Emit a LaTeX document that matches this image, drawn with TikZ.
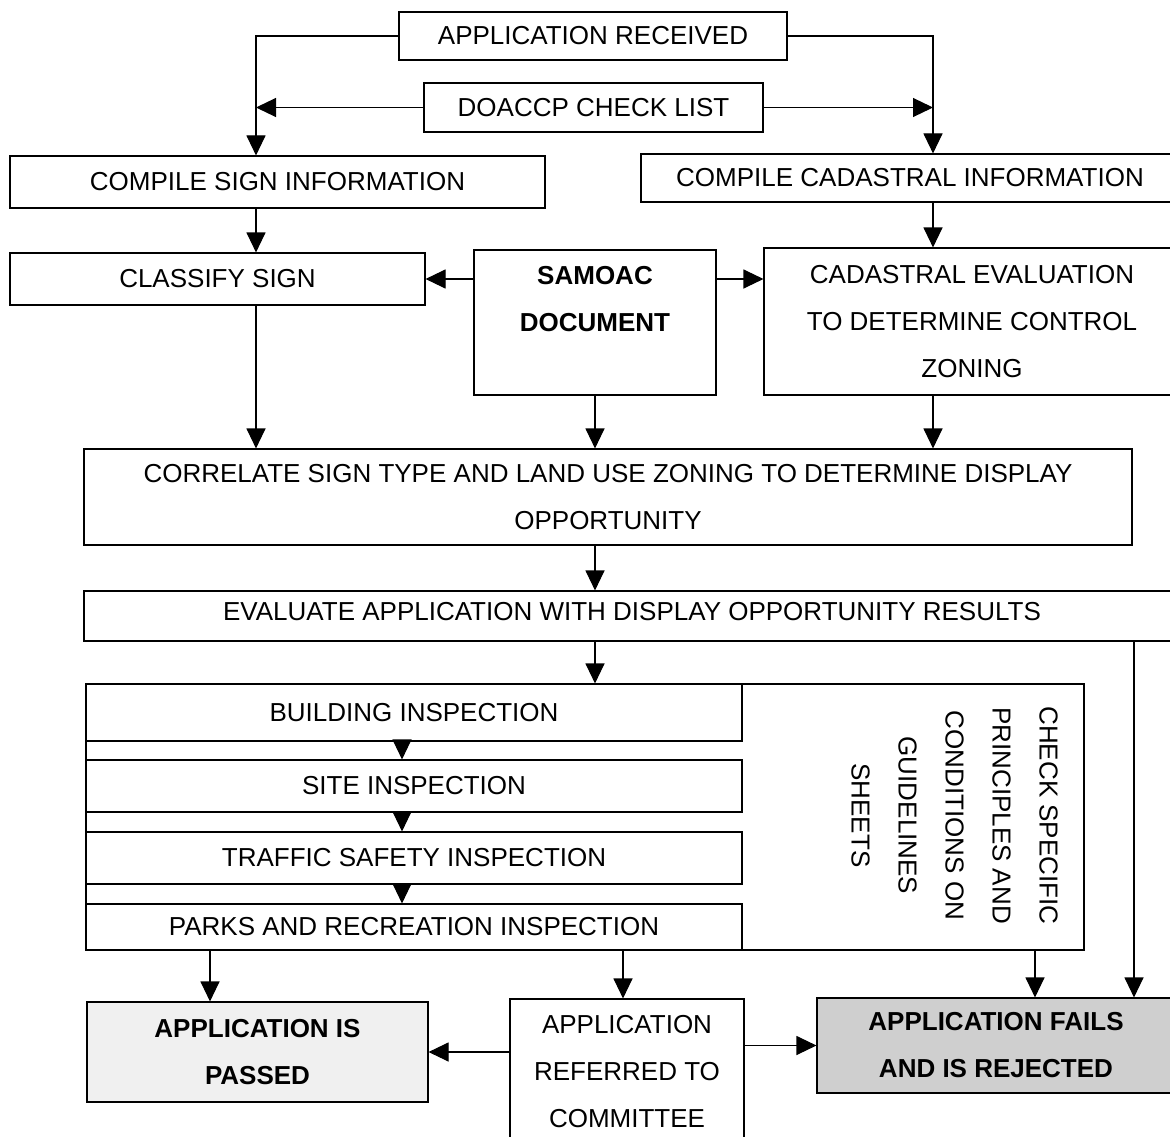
\documentclass[tikz,border=0pt]{standalone}
\usepackage{fontspec}
\setmainfont{Liberation Sans}
\usetikzlibrary{arrows.meta}
\begin{document}
\begin{tikzpicture}[x=1pt,y=-1pt,
  box/.style={draw, line width=1.1pt, rectangle, inner sep=0pt, align=center,
    font=\fontsize{26}{47}\selectfont},
  txt/.style={inner sep=0pt, align=center, font=\fontsize{26}{47}\selectfont},
  arr/.style={line width=1.1pt, -{Triangle[length=20pt,width=19pt]}},
  passfill/.style={fill=gray!12},
  failfill/.style={fill=gray!38}]
\useasboundingbox (0,0) rectangle (1170,1137);
\clip (0,0) rectangle (1170,1137);
\fill[white] (0,0) rectangle (1170,1137);
% column coordinates
\coordinate (colL) at (256,0);
\coordinate (colM) at (595,0);
\coordinate (colR) at (933,0);
\coordinate (colE) at (1134,0);
\coordinate (colF) at (1035,0);
\coordinate (colI) at (402,0);
\coordinate (colP) at (210,0);
\coordinate (colQ) at (623,0);
% boxes
\node[box, minimum width=388pt, minimum height=48pt] (ar) at (593,36) {APPLICATION RECEIVED};
\node[box, minimum width=339pt, minimum height=49pt] (doa) at (593.5,107.5) {DOACCP CHECK LIST};
\node[box, minimum width=535pt, minimum height=52pt] (cs) at (277.5,182) {COMPILE SIGN INFORMATION};
\node[box, minimum width=538pt, minimum height=48pt] (cc) at (910,178) {COMPILE CADASTRAL INFORMATION};
\node[box, minimum width=415pt, minimum height=52pt] (cls) at (217.5,279) {CLASSIFY SIGN};
\node[box, minimum width=242pt, minimum height=145pt] (sam) at (595,322.5) {};
\node[txt, font=\fontsize{26}{47}\selectfont\bfseries] (samtxt) at (595,299) {SAMOAC\\DOCUMENT};
\node[box, minimum width=416pt, minimum height=147pt] (cev) at (972,321.5) {CADASTRAL EVALUATION\\TO DETERMINE CONTROL\\ZONING};
\node[box, minimum width=1048pt, minimum height=96pt] (cor) at (608,497) {CORRELATE SIGN TYPE AND LAND USE ZONING TO DETERMINE DISPLAY\\OPPORTUNITY};
\node[box, minimum width=1096pt, minimum height=50pt] (ev) at (632,616) {};
\node[txt] (evtxt) at (632,612) {EVALUATE APPLICATION WITH DISPLAY OPPORTUNITY RESULTS};
\node[box, minimum width=998pt, minimum height=266pt] (chk) at (585,817) {};
\node[txt, rotate=-90] (chktxt) at (954.5,815.5) {CHECK SPECIFIC\\PRINCIPLES AND\\CONDITIONS ON\\GUIDELINES\\SHEETS};
\node[box, minimum width=656pt, minimum height=57pt] (bld) at (414,712.5) {BUILDING INSPECTION};
\node[box, minimum width=656pt, minimum height=52pt] (site) at (414,786) {SITE INSPECTION};
\node[box, minimum width=656pt, minimum height=52pt] (traf) at (414,858) {TRAFFIC SAFETY INSPECTION};
\node[box, minimum width=656pt, minimum height=46pt] (parks) at (414,927) {PARKS AND RECREATION INSPECTION};
\node[box, passfill, minimum width=341pt, minimum height=100pt, font=\fontsize{26}{47}\selectfont\bfseries] (pas) at (257.5,1052) {APPLICATION IS\\PASSED};
\node[box, minimum width=234pt, minimum height=145pt] (ref) at (627,1071.5) {APPLICATION\\REFERRED TO\\COMMITTEE};
\node[box, failfill, minimum width=358pt, minimum height=95pt, font=\fontsize{26}{47}\selectfont\bfseries] (fail) at (996,1045.5) {APPLICATION FAILS\\AND IS REJECTED};
% connectors
\draw[arr] (ar.west) -| (cs.north -| colL);
\draw[arr] (ar.east) -| (cc.north -| colR);
\draw[arr] (doa.west) -- (doa.west -| colL);
\draw[arr] (doa.east) -- (doa.east -| colR);
\draw[arr] (cs.south -| colL) -- (cls.north -| colL);
\draw[arr] (cc.south -| colR) -- (cev.north -| colR);
\draw[arr] (sam.west |- cls.east) -- (cls.east);
\draw[arr] (sam.east |- cls.east) -- (cev.west |- cls.east);
\draw[arr] (cls.south -| colL) -- (cor.north -| colL);
\draw[arr] (sam.south -| colM) -- (cor.north -| colM);
\draw[arr] (cev.south -| colR) -- (cor.north -| colR);
\draw[arr] (cor.south -| colM) -- (ev.north -| colM);
\draw[arr] (ev.south -| colM) -- (chk.north -| colM);
\draw[arr] (ev.south -| colE) -- (fail.north -| colE);
\draw[arr] (chk.south -| colF) -- (fail.north -| colF);
\draw[arr] (bld.south -| colI) -- (site.north -| colI);
\draw[arr] (site.south -| colI) -- (traf.north -| colI);
\draw[arr] (traf.south -| colI) -- (parks.north -| colI);
\draw[arr] (parks.south -| colP) -- (pas.north -| colP);
\draw[arr] (parks.south -| colQ) -- (ref.north -| colQ);
\draw[arr] (ref.west |- pas.east) -- (pas.east);
\draw[arr] (ref.east |- fail.west) -- (fail.west);
\end{tikzpicture}
\end{document}
